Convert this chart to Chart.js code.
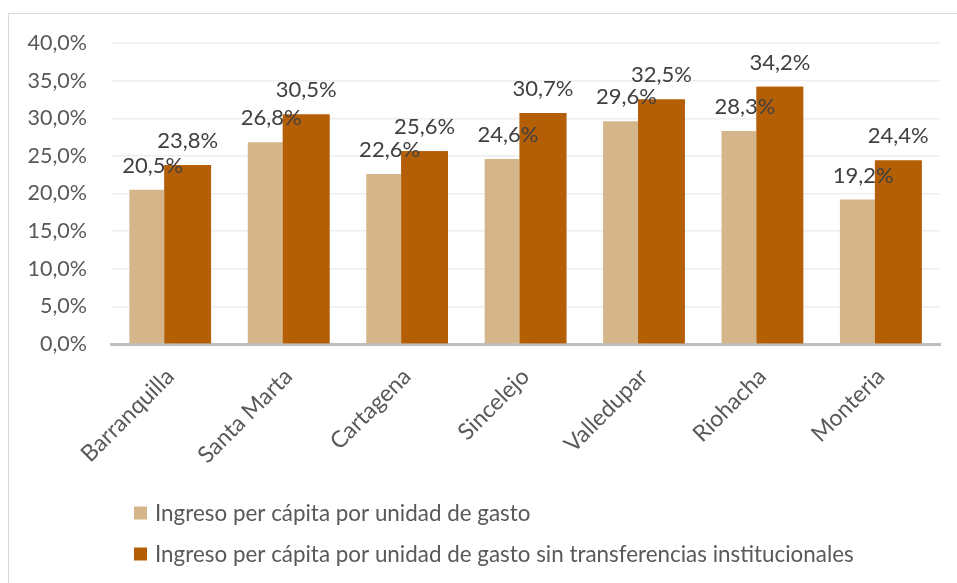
<!DOCTYPE html>
<html>
<head>
<meta charset="utf-8">
<script src="https://cdn.jsdelivr.net/npm/chart.js@4/dist/chart.umd.min.js"></script>
<style>
  html, body { margin: 0; padding: 0; background: #fff; overflow: hidden; width: 957px; height: 583px; }
  #frame { position: absolute; left: 8px; top: 13px; width: 2000px; height: 2000px; border: 1.5px solid #d9d9d9; }
  #c { position: absolute; left: 0; top: 0; }
</style>
</head>
<body>
<div id="frame"></div>
<canvas id="c" width="957" height="583"></canvas>
<script>
const categories = ['Barranquilla', 'Santa Marta', 'Cartagena', 'Sincelejo', 'Valledupar', 'Riohacha', 'Monteria'];
const seriesNames = ['Ingreso per cápita por unidad de gasto', 'Ingreso per cápita por unidad de gasto sin transferencias institucionales'];
const ingresoPerCapita = [20.5, 26.8, 22.6, 24.6, 29.6, 28.3, 19.2];
const ingresoSinTransferencias = [23.8, 30.5, 25.6, 30.7, 32.5, 34.2, 24.4];
const yTicks = [0, 5, 10, 15, 20, 25, 30, 35, 40];

const FONT = 'Lato, "Liberation Sans", sans-serif';
const fmt = v => v.toFixed(1).replace('.', ',') + '%';

const topBars = {
  id: 'topBars',
  afterDatasetsDraw(chart) {
    const meta = chart.getDatasetMeta(1);
    const ctx = chart.ctx;
    ctx.save();
    meta.controller.draw();
    ctx.restore();
    ctx.save();
    ctx.font = '22px ' + FONT;
    ctx.fillStyle = '#404040';
    ctx.textAlign = 'center';
    ctx.textBaseline = 'alphabetic';
    chart.data.datasets.forEach((ds, di) => {
      chart.getDatasetMeta(di).data.forEach((el, i) => {
        ctx.fillText(fmt(ds.data[i]), el.x, el.y - 17);
      });
    });
    ctx.restore();
  }
};

const customLegend = {
  id: 'customLegend',
  afterDraw(chart) {
    const ctx = chart.ctx;
    ctx.save();
    ctx.font = '22.4px ' + FONT;
    ctx.textBaseline = 'middle';
    ctx.textAlign = 'left';
    chart.data.datasets.forEach((ds, i) => {
      const cy = 513 + i * 41;
      ctx.fillStyle = ds.backgroundColor;
      ctx.fillRect(134, cy - 6.5, 13, 13);
      ctx.fillStyle = '#595959';
      ctx.fillText(ds.label, 155, cy + 1);
    });
    ctx.restore();
  }
};

new Chart(document.getElementById('c'), {
  type: 'bar',
  data: {
    labels: categories,
    datasets: [
      { label: seriesNames[0], data: ingresoPerCapita, backgroundColor: '#D4B68A' },
      { label: seriesNames[1], data: ingresoSinTransferencias, backgroundColor: '#B45E06' }
    ]
  },
  options: {
    responsive: false,
    animation: false,
    devicePixelRatio: 1,
    categoryPercentage: 0.591,
    barPercentage: 1.334,
    layout: { padding: { left: 0, top: 43, right: 17, bottom: 99 } },
    plugins: { legend: { display: false }, tooltip: { enabled: false } },
    scales: {
      x: {
        grid: { display: false, drawTicks: false },
        border: { display: true, color: '#bfbfbf', width: 3 },
        ticks: {
          autoSkip: false, maxRotation: 45, minRotation: 45, padding: 19,
          color: '#595959', font: { family: FONT, size: 23 }
        },
        afterFit(s) { s.height = 140; }
      },
      y: {
        min: 0, max: 40,
        afterBuildTicks(s) { s.ticks = yTicks.map(v => ({ value: v })); },
        grid: { color: '#eeeeee', lineWidth: 1.5, drawTicks: false },
        border: { display: false },
        ticks: {
          padding: 24, color: '#595959', font: { family: FONT, size: 21.5 },
          callback: v => fmt(v)
        },
        afterFit(s) { s.width = 111; }
      }
    }
  },
  plugins: [topBars, customLegend]
});
</script>
</body>
</html>
